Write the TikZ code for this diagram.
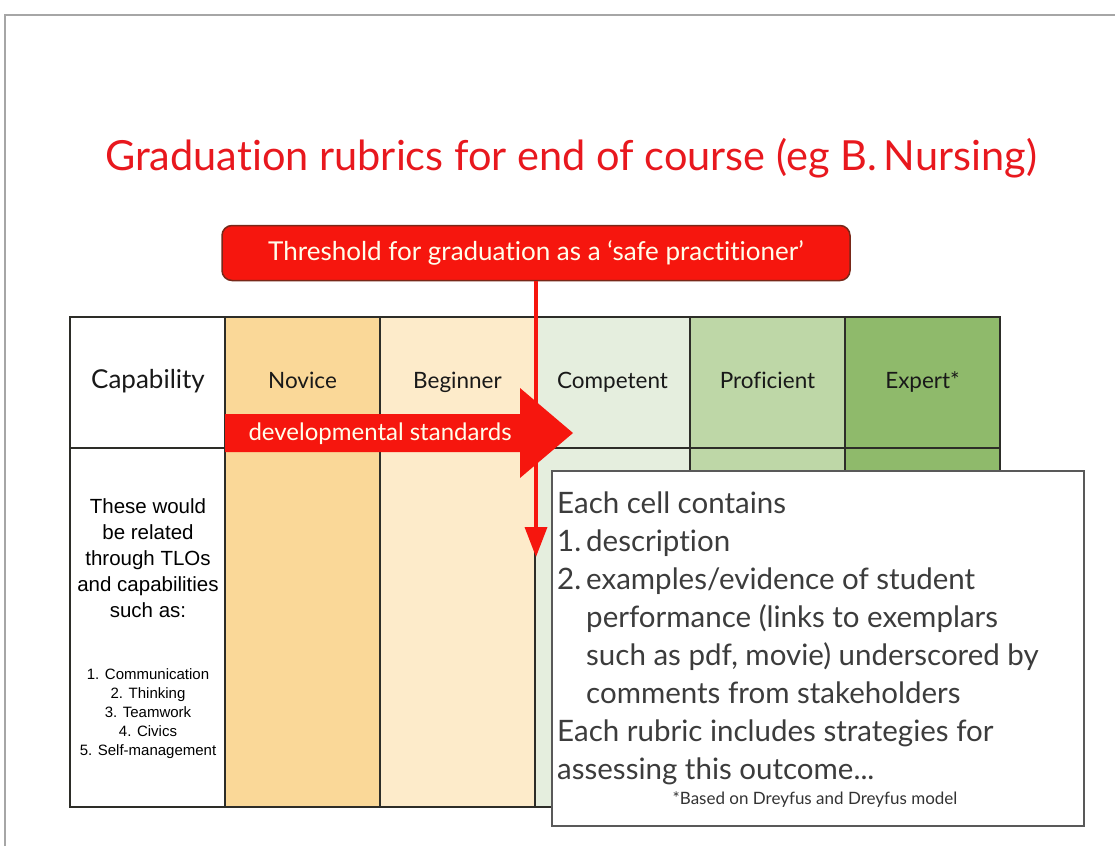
\documentclass[tikz,border=0pt]{standalone}
\usepackage{fontspec}
\setmainfont[Ligatures=NoCommon]{Lato}
\newfontfamily\arialfont{Liberation Sans}
\usetikzlibrary{arrows.meta, positioning}

\definecolor{titlered}{RGB}{232,24,30}
\definecolor{threshred}{RGB}{246,22,14}
\definecolor{threshrim}{RGB}{120,40,25}
\definecolor{novice}{RGB}{250,216,152}
\definecolor{beginner}{RGB}{253,235,202}
\definecolor{competent}{RGB}{229,238,222}
\definecolor{proficient}{RGB}{190,215,167}
\definecolor{expert}{RGB}{143,186,107}
\definecolor{gridgray}{RGB}{45,45,40}
\definecolor{boxtext}{RGB}{60,60,60}

\tikzset{
  gridline/.style = {draw=gridgray, line width=1.6pt},
  headlabel/.style = {text=black!90, text height=1.5ex, text depth=.25ex,
    font=\fontsize{22.5}{26}\selectfont},
  thresh/.style = {fill=threshred, draw=threshrim, line width=1.5pt,
    rounded corners=10pt, minimum width=628pt, minimum height=55pt,
    text=white!92!yellow, font=\fontsize{26}{30}\selectfont},
  infobox/.style = {fill=white, draw=black!65, line width=1.6pt,
    minimum width=532pt, minimum height=355pt, inner sep=0pt}
}

\begin{document}
\begin{tikzpicture}[x=1pt, y=-1pt]
\useasboundingbox (0,0) rectangle (1115,846);

% slide frame
\draw[black!35, line width=1.5pt] (5,846) -- (5,15) -- (1115,15);

\node[text=titlered, font=\fontsize{41.5}{46}\selectfont] (title) at (571,158)
	{Graduation rubrics for end of course (eg B.\,Nursing)};

% columns
\foreach \x/\clr/\lab/\nm in {225/novice/Novice/nov,
		380/beginner/Beginner/beg,
		535/competent/Competent/comp,
		690/proficient/Proficient/prof,
		845/expert/Expert*/exp} {
	\fill[\clr] (\x,317) rectangle ++(155,490);
	\node[headlabel] (\nm) at (\x+77.5,385) {\lab};
}
\node[headlabel, font=\fontsize{26}{30}\selectfont] (cap) at (148,385) {Capability};

\draw[gridline] (70,317) rectangle (1000,807);
\draw[gridline] (70,448) -- (1000,448);
\foreach \x in {225,380,...,845}
	\draw[gridline] (\x,317) -- (\x,807);

\node[align=center, font=\arialfont\fontsize{20.5}{26}\selectfont] (tlos) at (148,558)
	{These would\\be related\\through TLOs\\and capabilities\\such as:};
\node[align=center, font=\arialfont\fontsize{15}{19}\selectfont] (list) at (148,714)
	{1. Communication\\2. Thinking\\3. Teamwork\\4. Civics\\5. Self-management};

% developmental standards arrow
\fill[threshred] (225,414) -- (520,414) -- (520,388) --
	(573,433) --
	(520,478) -- (520,452) -- (225,452) -- cycle;
\node[anchor=west, text=white!92!yellow, font=\fontsize{24}{28}\selectfont] (dev) at (245,434)
	{developmental standards};

% threshold
\node[thresh] (thr) at (536,253) {Threshold for graduation as a `safe practitioner'};
\coordinate (drop) at (536,557);
\draw[threshred, line width=3.5pt, -{Triangle[width=22pt,length=30pt]}] (thr.south) -- (drop);

% cell contents
\node[infobox, anchor=north west] (info) at (551,470) {};
\node[anchor=north west, inner sep=0pt, align=left, text=boxtext,
		font=\fontsize{29.5}{38}\selectfont] (cells) at (557,492)
	{Each cell contains\\
	\makebox[29pt][l]{1.}description\\
	\makebox[29pt][l]{2.}examples/evidence of student\\
	\hspace*{29pt}performance (links to exemplars\\
	\hspace*{29pt}such as pdf, movie) underscored by\\
	\hspace*{29pt}comments from stakeholders\\
	Each rubric includes strategies for\\
	assessing this outcome...};
\node[font=\fontsize{17}{19}\selectfont, text=black!80] (note) at (815,800)
	{*Based on Dreyfus and Dreyfus model};
\end{tikzpicture}
\end{document}
